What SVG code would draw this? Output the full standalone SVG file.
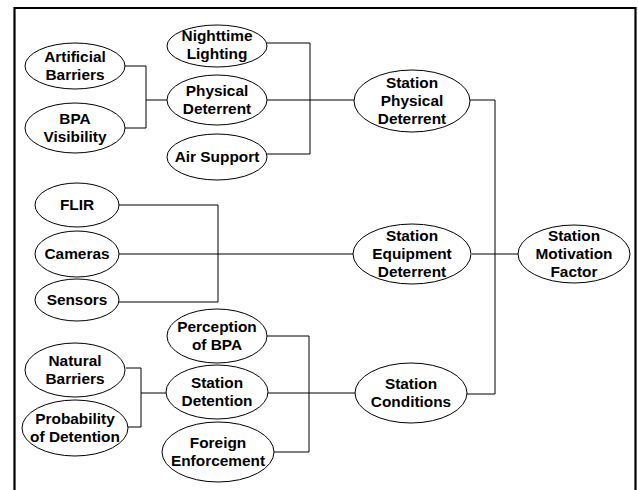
<svg xmlns="http://www.w3.org/2000/svg" width="638" height="490" viewBox="0 0 638 490">
<style>
.n ellipse{fill:#fff;stroke:#000;stroke-width:1}
.n text{font-family:"Liberation Sans",Arial,sans-serif;font-weight:bold;font-size:15.4px;text-anchor:middle;fill:#000}
.c path{fill:none;stroke:#000;stroke-width:1}
</style>
<rect width="638" height="490" fill="#fff"/>
<path d="M14.5,490 V8 H635.5 V490" fill="none" stroke="#000" stroke-width="2.2"/>
<g class="c">
<path d="M125,66 H146 V128 H125 M146,100 H167"/>
<path d="M267,43 H310 V154 H267 M267,100 H354"/>
<path d="M470,100 H495 V394 H467"/>
<path d="M119,205 H218 V302 H119"/>
<path d="M119,254 H353 M472,254 H518"/>
<path d="M126,368 H141 V427 H128 M141,393 H167"/>
<path d="M267,336 H309 V452 H274 M268,393 H355"/>
</g>
<g class="n" id="nighttime-lighting"><ellipse cx="217" cy="46" rx="50" ry="21"/><text x="217" y="41">Nighttime</text><text x="217" y="59">Lighting</text></g>
<g class="n" id="artificial-barriers"><ellipse cx="75" cy="66" rx="50" ry="23"/><text x="75" y="62">Artificial</text><text x="75" y="80">Barriers</text></g>
<g class="n" id="physical-deterrent"><ellipse cx="217" cy="100" rx="50" ry="25"/><text x="217" y="96">Physical</text><text x="217" y="114">Deterrent</text></g>
<g class="n" id="bpa-visibility"><ellipse cx="75" cy="128" rx="50" ry="25"/><text x="75" y="124">BPA</text><text x="75" y="142">Visibility</text></g>
<g class="n" id="air-support"><ellipse cx="217" cy="157" rx="50" ry="23"/><text x="217" y="162">Air Support</text></g>
<g class="n" id="station-physical-deterrent"><ellipse cx="412" cy="101" rx="58" ry="31"/><text x="412" y="88">Station</text><text x="412" y="106">Physical</text><text x="412" y="124">Deterrent</text></g>
<g class="n" id="flir"><ellipse cx="77" cy="205" rx="42" ry="22"/><text x="77" y="210">FLIR</text></g>
<g class="n" id="cameras"><ellipse cx="77" cy="254" rx="42" ry="23"/><text x="77" y="259">Cameras</text></g>
<g class="n" id="sensors"><ellipse cx="77" cy="300" rx="42" ry="21"/><text x="77" y="305">Sensors</text></g>
<g class="n" id="station-equipment-deterrent"><ellipse cx="412" cy="254" rx="59" ry="30"/><text x="412" y="241">Station</text><text x="412" y="259">Equipment</text><text x="412" y="277">Deterrent</text></g>
<g class="n" id="station-motivation-factor"><ellipse cx="574" cy="254" rx="56" ry="29"/><text x="574" y="241">Station</text><text x="574" y="259">Motivation</text><text x="574" y="277">Factor</text></g>
<g class="n" id="perception-of-bpa"><ellipse cx="217" cy="336" rx="50" ry="27"/><text x="217" y="332">Perception</text><text x="217" y="350">of BPA</text></g>
<g class="n" id="natural-barriers"><ellipse cx="75" cy="370" rx="50" ry="27"/><text x="75" y="366">Natural</text><text x="75" y="384">Barriers</text></g>
<g class="n" id="station-detention"><ellipse cx="217" cy="392" rx="51" ry="27"/><text x="217" y="388">Station</text><text x="217" y="406">Detention</text></g>
<g class="n" id="probability-of-detention"><ellipse cx="75" cy="428" rx="53" ry="28"/><text x="75" y="424">Probability</text><text x="75" y="442">of Detention</text></g>
<g class="n" id="foreign-enforcement"><ellipse cx="218" cy="452" rx="56" ry="30"/><text x="218" y="448">Foreign</text><text x="218" y="466">Enforcement</text></g>
<g class="n" id="station-conditions"><ellipse cx="411" cy="393" rx="56" ry="30"/><text x="411" y="389">Station</text><text x="411" y="407">Conditions</text></g>
</svg>
